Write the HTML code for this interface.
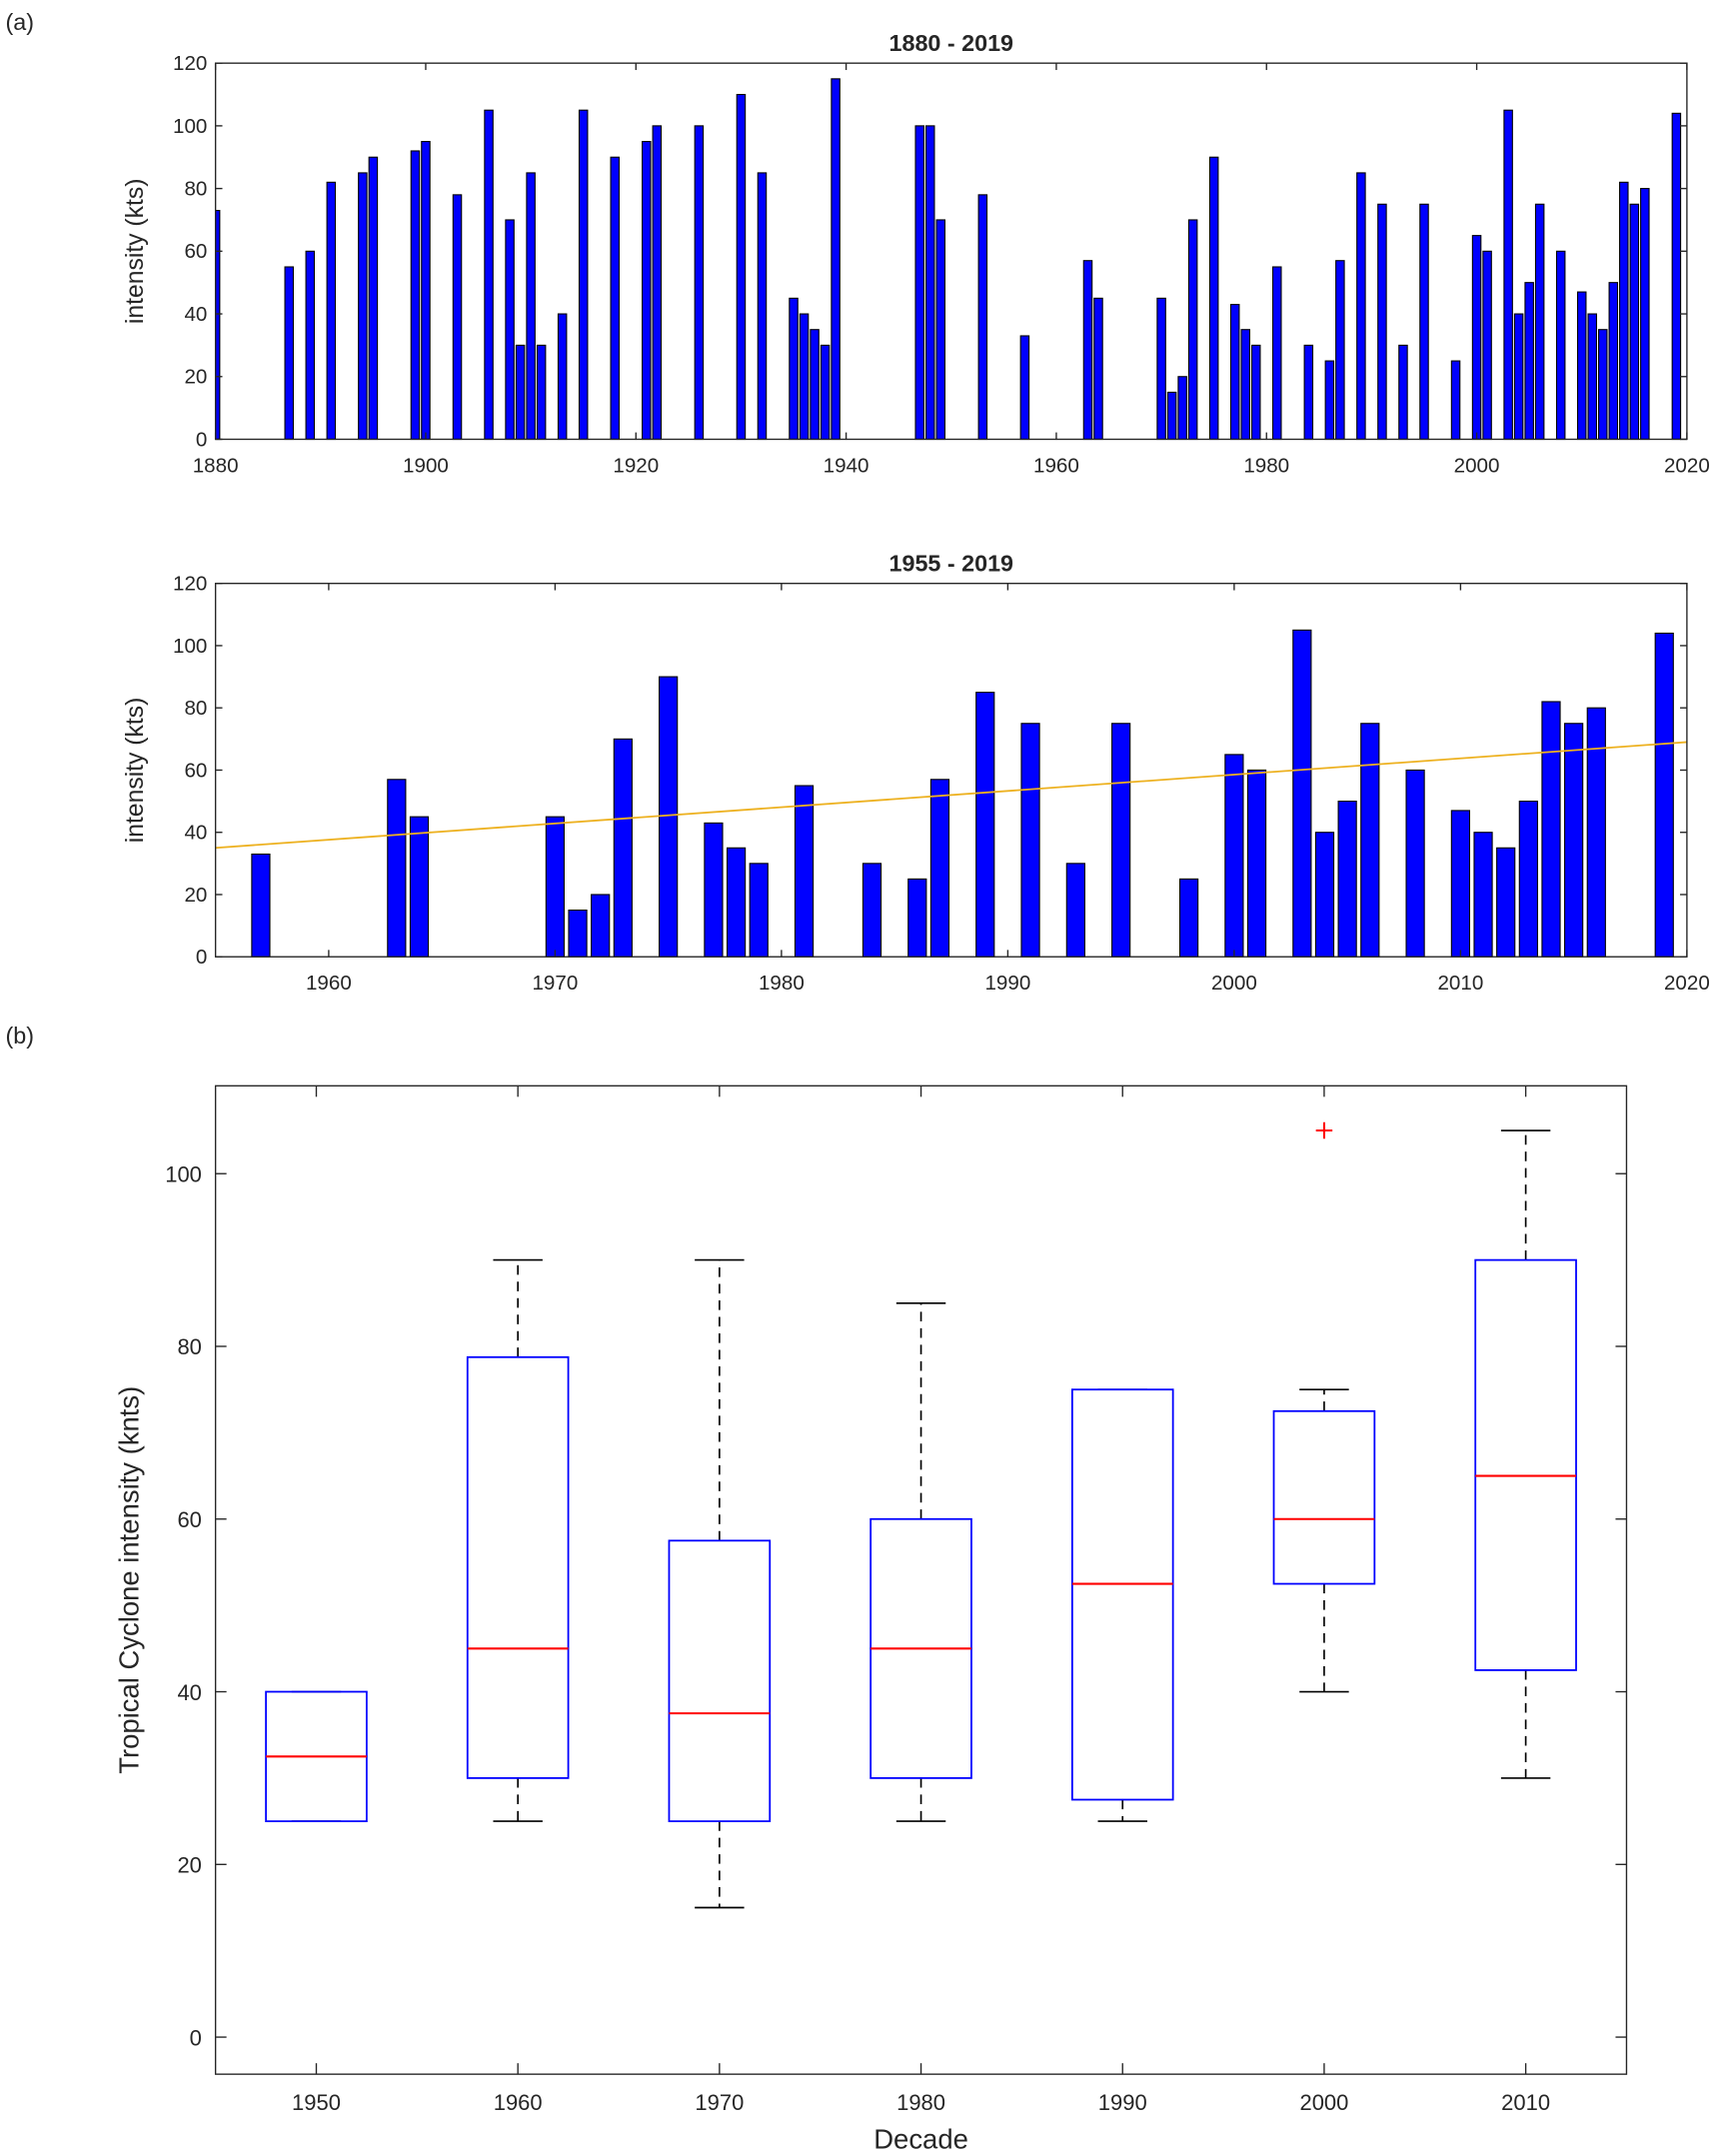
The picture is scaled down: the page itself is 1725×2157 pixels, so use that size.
<!DOCTYPE html>
<html><head><meta charset="utf-8"><style>
html,body{margin:0;padding:0;background:#fff}
svg{display:block}
text{font-family:"Liberation Sans",sans-serif;fill:#262626}
</style></head><body>
<svg id="fig" xmlns="http://www.w3.org/2000/svg" width="1725" height="2157" viewBox="0 0 1256 1570.6">
<text x="4" y="22" font-size="17">(a)</text>
<text x="4" y="760" font-size="17">(b)</text>
<g id="p1"></g>
<g id="p2"></g>
<g id="p3"></g>
</svg>
<script>
const years1 = [1880,1887,1889,1891,1894,1895,1899,1900,1903,1906,1908,1909,1910,1911,1913,1915,1918,1921,1922,1926,1930,1932,1935,1936,1937,1938,1939,1947,1948,1949,1953,1957,1963,1964,1970,1971,1972,1973,1975,1977,1978,1979,1981,1984,1986,1987,1989,1991,1993,1995,1998,2000,2001,2003,2004,2005,2006,2008,2010,2011,2012,2013,2014,2015,2016,2019];
const values1 = [73,55,60,82,85,90,92,95,78,105,70,30,85,30,40,105,90,95,100,100,110,85,45,40,35,30,115,100,100,70,78,33,57,45,45,15,20,70,90,43,35,30,55,30,25,57,85,75,30,75,25,65,60,105,40,50,75,60,47,40,35,50,82,75,80,104];
const trendStart = [1955, 35];
const trendEnd = [2020, 69];
const xTicks1 = [1880,1900,1920,1940,1960,1980,2000,2020];
const xTicks2 = [1960,1970,1980,1990,2000,2010,2020];
const yTicks = [0,20,40,60,80,100,120];
const decades = ["1950","1960","1970","1980","1990","2000","2010"];
const whiskerLo = [25,25,15,25,25,40,30];
const boxLo = [25,30,25,30,27.5,52.5,42.5];
const medians = [32.5,45,37.5,45,52.5,60,65];
const boxHi = [40,78.75,57.5,60,75,72.5,90];
const whiskerHi = [40,90,90,85,75,75,105];
const outlierDecade = [5];
const outlierValue = [105];
const yTicksB = [0,20,40,60,80,100];

const NS="http://www.w3.org/2000/svg";
function mk(parent,tag,attrs){const e=document.createElementNS(NS,tag);for(const k in attrs)e.setAttribute(k,attrs[k]);parent.appendChild(e);return e;}

function barPanel(g,x0,x1,y0,y1,xmin,xmax,title,xt,bw,trend){
  const sx=v=>x0+(v-xmin)/(xmax-xmin)*(x1-x0);
  const sy=v=>y1-v/120*(y1-y0);
  const t=mk(g,'text',{x:(x0+x1)/2,y:y0-9,'font-size':17,'font-weight':'bold','text-anchor':'middle'});t.textContent=title;
  
  
  years1.forEach((yr,i)=>{
    if(yr<xmin)return;
    let xa=sx(yr-bw/2),xb=sx(yr+bw/2); xa=Math.max(xa,x0);
    const r=mk(g,'rect',{x:xa,y:sy(values1[i]),width:xb-xa,height:sy(0)-sy(values1[i]),fill:'#0000ff',stroke:'#000','stroke-width':0.8});
    
    
  });
  if(trend){
    const l=mk(g,'line',{x1:sx(trendStart[0]),y1:sy(trendStart[1]),x2:sx(trendEnd[0]),y2:sy(trendEnd[1]),stroke:'#edb120','stroke-width':1.3});
    
    
  }
  mk(g,'rect',{x:x0,y:y0,width:x1-x0,height:y1-y0,fill:'none',stroke:'#262626','stroke-width':1});
  xt.forEach(v=>{const x=sx(v);
    mk(g,'line',{x1:x,x2:x,y1:y1,y2:y1-5,stroke:'#262626'});mk(g,'line',{x1:x,x2:x,y1:y0,y2:y0+5,stroke:'#262626'});
    const tx=mk(g,'text',{x:x,y:y1+24,'font-size':15,'text-anchor':'middle'});tx.textContent=v;
    
    });
  yTicks.forEach(v=>{const y=sy(v);
    mk(g,'line',{x1:x0,x2:x0+5,y1:y,y2:y,stroke:'#262626'});mk(g,'line',{x1:x1,x2:x1-5,y1:y,y2:y,stroke:'#262626'});
    const tx=mk(g,'text',{x:x0-6,y:y+5,'font-size':15,'text-anchor':'end'});tx.textContent=v;
    
    });
  const yl=mk(g,'text',{x:0,y:0,'font-size':18,'text-anchor':'middle',transform:`translate(104,${(y0+y1)/2}) rotate(-90)`});yl.textContent='intensity (kts)';
  
  
}
barPanel(document.getElementById('p1'),157,1229,46,320,1880,2020,'1880 - 2019',xTicks1,0.8,false);
barPanel(document.getElementById('p2'),157,1229,425,697,1955,2020,'1955 - 2019',xTicks2,0.8,true);

(function(){
  const g=document.getElementById('p3');
  const x0=157,x1=1185,y0=791,y1=1511;
  const sx=i=>x0+(i+1-0.5)/7*(x1-x0);
  const sy=v=>1484-v*6.29;
  const bh=36.7, ch=18;
  decades.forEach((d,i)=>{
    const x=sx(i);
    const grp=mk(g,'g',{});
    
    
    if(whiskerHi[i]>boxHi[i]) mk(grp,'line',{x1:x,x2:x,y1:sy(boxHi[i]),y2:sy(whiskerHi[i]),stroke:'#000','stroke-dasharray':'7,5','stroke-width':1.2});
    if(whiskerLo[i]<boxLo[i]) mk(grp,'line',{x1:x,x2:x,y1:sy(boxLo[i]),y2:sy(whiskerLo[i]),stroke:'#000','stroke-dasharray':'7,5','stroke-width':1.2});
    mk(grp,'line',{x1:x-ch,x2:x+ch,y1:sy(whiskerHi[i]),y2:sy(whiskerHi[i]),stroke:'#000','stroke-width':1.2});
    mk(grp,'line',{x1:x-ch,x2:x+ch,y1:sy(whiskerLo[i]),y2:sy(whiskerLo[i]),stroke:'#000','stroke-width':1.2});
    mk(grp,'rect',{x:x-bh,y:sy(boxHi[i]),width:2*bh,height:sy(boxLo[i])-sy(boxHi[i]),fill:'none',stroke:'#0000ff','stroke-width':1.3});
    mk(grp,'line',{x1:x-bh,x2:x+bh,y1:sy(medians[i]),y2:sy(medians[i]),stroke:'#ff0000','stroke-width':1.5});
    const t=mk(g,'text',{x:x,y:y1+26,'font-size':16,'text-anchor':'middle'});t.textContent=d;
    
    
    mk(g,'line',{x1:x,x2:x,y1:y1,y2:y1-8,stroke:'#262626'});mk(g,'line',{x1:x,x2:x,y1:y0,y2:y0+8,stroke:'#262626'});
  });
  outlierDecade.forEach((di,k)=>{const x=sx(di),y=sy(outlierValue[k]);
    const p=mk(g,'path',{d:`M${x-6},${y}H${x+6}M${x},${y-6}V${y+6}`,stroke:'#ff0000','stroke-width':1.5});
    
    });
  mk(g,'rect',{x:x0,y:y0,width:x1-x0,height:y1-y0,fill:'none',stroke:'#262626','stroke-width':1});
  yTicksB.forEach(v=>{const y=sy(v);
    mk(g,'line',{x1:x0,x2:x0+8,y1:y,y2:y,stroke:'#262626'});mk(g,'line',{x1:x1,x2:x1-8,y1:y,y2:y,stroke:'#262626'});
    const t=mk(g,'text',{x:x0-10,y:y+6,'font-size':16,'text-anchor':'end'});t.textContent=v;
    
    });
  const yl=mk(g,'text',{x:0,y:0,'font-size':20,'text-anchor':'middle',transform:`translate(101,${(y0+y1)/2}) rotate(-90)`});yl.textContent='Tropical Cyclone intensity (knts)';
  
  
  const xl=mk(g,'text',{x:(x0+x1)/2,y:1565,'font-size':20,'text-anchor':'middle'});xl.textContent='Decade';
  
  
})();
</script>
</body></html>
